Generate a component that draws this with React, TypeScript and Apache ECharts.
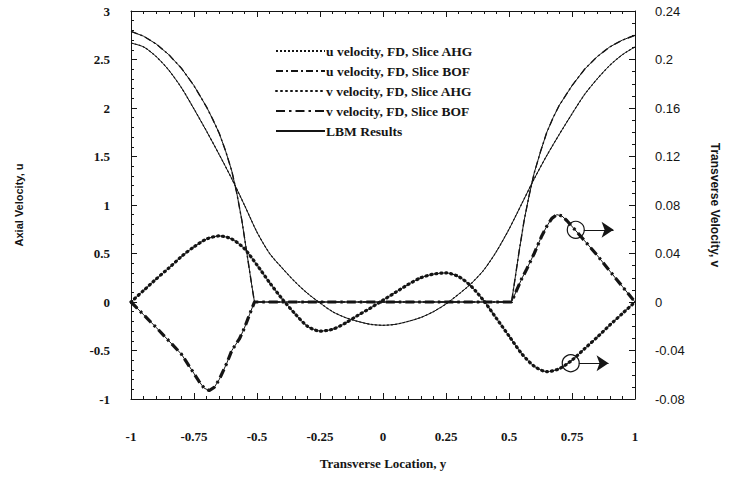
import React, { useEffect, useRef } from "react";
import * as echarts from "echarts";

// Transverse locations (shared grid for AHG slices)
const xGrid = [-1, -0.95, -0.9, -0.85, -0.8, -0.75, -0.7, -0.65, -0.6, -0.55, -0.5, -0.45, -0.4, -0.35, -0.3, -0.25, -0.2, -0.15, -0.1, -0.05, 0, 0.05, 0.1, 0.15, 0.2, 0.25, 0.3, 0.35, 0.4, 0.45, 0.5, 0.55, 0.6, 0.65, 0.7, 0.75, 0.8, 0.85, 0.9, 0.95, 1];

// Axial velocity u, slice AHG
const uAHG = [2.67, 2.63, 2.53, 2.39, 2.21, 1.99, 1.76, 1.52, 1.27, 1.0, 0.72, 0.5, 0.35, 0.21, 0.09, -0.01, -0.1, -0.16, -0.2, -0.23, -0.24, -0.23, -0.2, -0.16, -0.1, -0.02, 0.08, 0.19, 0.33, 0.52, 0.75, 1.01, 1.27, 1.51, 1.73, 1.94, 2.14, 2.3, 2.44, 2.55, 2.63];

// Transverse velocity v, slice AHG
const vAHG = [0, 0.0095, 0.019, 0.028, 0.0375, 0.0455, 0.052, 0.0545, 0.052, 0.044, 0.0305, 0.016, 0.0025, -0.0095, -0.02, -0.024, -0.0225, -0.0175, -0.011, -0.005, 0.0015, 0.008, 0.0145, 0.02, 0.023, 0.024, 0.021, 0.013, 0.001, -0.0135, -0.028, -0.0425, -0.053, -0.0575, -0.055, -0.048, -0.0385, -0.029, -0.019, -0.0095, 0];

// Axial velocity u, slice BOF
const xBOFu = [-1, -0.95, -0.9, -0.85, -0.8, -0.75, -0.7, -0.675, -0.65, -0.625, -0.6, -0.58, -0.56, -0.54, -0.52, -0.51, 0.51, 0.52, 0.54, 0.56, 0.58, 0.6, 0.625, 0.65, 0.675, 0.7, 0.75, 0.8, 0.85, 0.9, 0.95, 1];
const uBOF = [2.79, 2.74, 2.66, 2.55, 2.41, 2.23, 2.01, 1.88, 1.74, 1.56, 1.35, 1.12, 0.84, 0.5, 0.16, 0, 0, 0.17, 0.52, 0.84, 1.1, 1.33, 1.55, 1.75, 1.9, 2.03, 2.23, 2.4, 2.53, 2.63, 2.7, 2.75];

// Transverse velocity v, slice BOF
const xBOFv = [-1, -0.95, -0.9, -0.85, -0.8, -0.75, -0.73, -0.71, -0.69, -0.67, -0.65, -0.62, -0.6, -0.57, -0.55, -0.53, -0.51, 0.51, 0.53, 0.55, 0.57, 0.6, 0.63, 0.65, 0.67, 0.69, 0.71, 0.73, 0.76, 0.8, 0.85, 0.9, 0.95, 1];
const vBOF = [0, -0.0105, -0.021, -0.032, -0.043, -0.059, -0.0655, -0.071, -0.073, -0.0705, -0.064, -0.0505, -0.04, -0.0305, -0.0215, -0.0105, 0, 0, 0.0095, 0.019, 0.027, 0.04, 0.0545, 0.0625, 0.069, 0.072, 0.071, 0.067, 0.06, 0.0505, 0.0385, 0.0255, 0.0128, 0];

// Annotation markers (circle + arrow toward right axis)
const upperMark = { x: 0.765, v: 0.0595, arrowFrom: 0.797, arrowTo: 0.915 };
const lowerMark = { x: 0.745, v: -0.0505, arrowFrom: 0.777, arrowTo: 0.895 };

const names = [
  "u velocity, FD, Slice AHG",
  "u velocity, FD, Slice BOF",
  "v velocity, FD, Slice AHG",
  "v velocity, FD, Slice BOF",
  "LBM Results",
];

const pair = (xs: number[], ys: number[]) => xs.map((x, i) => [x, ys[i]]);

const INK = "#151515";
const SERIF = "'Liberation Serif', 'Times New Roman', serif";
const SANS = "'Liberation Sans', Arial, sans-serif";

function marks(m: { x: number; v: number; arrowFrom: number; arrowTo: number }) {
  return {
    markPoint: {
      silent: true,
      symbol: "circle",
      symbolSize: 17,
      itemStyle: { color: "rgba(0,0,0,0)", borderColor: INK, borderWidth: 1.2 },
      label: { show: false },
      data: [{ coord: [m.x, m.v] }],
    },
    markLine: {
      silent: true,
      symbol: ["none", "arrow"],
      symbolSize: 12,
      itemStyle: { color: INK },
      lineStyle: { color: INK, width: 1, type: "solid" },
      label: { show: false },
      emphasis: { disabled: true },
      data: [[{ coord: [m.arrowFrom, m.v] }, { coord: [m.arrowTo, m.v] }]],
    },
  };
}

export default function App() {
  const ref = useRef<HTMLDivElement>(null);
  useEffect(() => {
    if (!ref.current) return;
    const chart = echarts.init(ref.current, undefined, { renderer: "svg" });
    const commonLine = { type: "line", symbol: "none", smooth: 0.25, silent: true, z: 2, itemStyle: { color: INK } };
    const tickStyle = { lineStyle: { color: INK, width: 1 } };
    const option: any = {
      animation: false,
      backgroundColor: "#ffffff",
      grid: { left: 131, right: 89, top: 11, bottom: 80 },
      legend: {
        orient: "vertical",
        left: 270,
        top: 39,
        itemWidth: 49,
        itemHeight: 12,
        itemGap: 6,
        data: names,
        selectedMode: false,
        itemStyle: { opacity: 0, borderWidth: 0 },
        textStyle: { fontFamily: SERIF, fontWeight: "bold", fontSize: 13.5, color: INK, padding: [0, 0, 0, -4] },
      },
      xAxis: [
        {
          type: "value",
          min: -1,
          max: 1,
          interval: 0.25,
          position: "bottom",
          name: "Transverse Location, y",
          nameLocation: "middle",
          nameGap: 58,
          nameTextStyle: { fontFamily: SERIF, fontWeight: "bold", fontSize: 13, color: INK },
          axisLine: { onZero: false, lineStyle: { color: INK, width: 1 } },
          axisTick: { inside: true, length: 6, ...tickStyle },
          minorTick: { show: true, splitNumber: 5, length: 3, ...tickStyle },
          splitLine: { show: false },
          axisLabel: {
            margin: 31,
            fontFamily: SERIF,
            fontWeight: "bold",
            fontSize: 13,
            color: INK,
            formatter: (v: number) => String(Math.round(v * 100) / 100),
          },
        },
        {
          type: "value",
          min: -1,
          max: 1,
          interval: 0.25,
          position: "top",
          axisLine: { onZero: false, lineStyle: { color: INK, width: 1 } },
          axisTick: { inside: true, length: 6, ...tickStyle },
          minorTick: { show: true, splitNumber: 5, length: 3, ...tickStyle },
          splitLine: { show: false },
          axisLabel: { show: false },
        },
      ],
      yAxis: [
        {
          type: "value",
          min: -1,
          max: 3,
          interval: 0.5,
          position: "left",
          name: "Axial Velocity, u",
          nameLocation: "middle",
          nameGap: 107,
          nameRotate: 90,
          nameTextStyle: { fontFamily: SANS, fontWeight: "bold", fontSize: 11, color: INK },
          axisLine: { onZero: false, lineStyle: { color: INK, width: 1 } },
          axisTick: { inside: true, length: 6, ...tickStyle },
          minorTick: { show: true, splitNumber: 5, length: 3, ...tickStyle },
          splitLine: { show: false },
          axisLabel: {
            margin: 21,
            fontFamily: SERIF,
            fontWeight: "bold",
            fontSize: 13,
            color: INK,
            formatter: (v: number) => String(Math.round(v * 10) / 10),
          },
        },
        {
          type: "value",
          min: -0.08,
          max: 0.24,
          interval: 0.04,
          position: "right",
          name: "Transverse Velocity, v",
          nameLocation: "middle",
          nameGap: 74,
          nameRotate: -90,
          nameTextStyle: { fontFamily: SANS, fontWeight: "bold", fontSize: 12, color: INK },
          axisLine: { onZero: false, lineStyle: { color: INK, width: 1 } },
          axisTick: { inside: true, length: 6, ...tickStyle },
          minorTick: { show: true, splitNumber: 4, length: 3, ...tickStyle },
          splitLine: { show: false },
          axisLabel: {
            margin: 20,
            fontFamily: SANS,
            fontSize: 13,
            color: INK,
            formatter: (v: number) => String(Math.round(v * 100) / 100),
          },
        },
      ],
      series: [
        {
          ...commonLine,
          name: names[0],
          yAxisIndex: 0,
          data: pair(xGrid, uAHG),
          lineStyle: { color: INK, width: 1.2, type: [2, 2] },
        },
        {
          ...commonLine,
          name: names[1],
          yAxisIndex: 0,
          smooth: false,
          data: pair(xBOFu, uBOF),
          lineStyle: { color: INK, width: 1.4, type: [7, 3, 2, 3] },
        },
        {
          ...commonLine,
          name: names[2],
          yAxisIndex: 1,
          data: pair(xGrid, vAHG),
          lineStyle: { color: INK, width: 3.2, type: [1, 4], cap: "round" },
          ...marks(lowerMark),
        },
        {
          ...commonLine,
          name: names[3],
          yAxisIndex: 1,
          smooth: false,
          data: pair(xBOFv, vBOF),
          lineStyle: { color: INK, width: 3.2, type: [9, 4, 2.5, 4] },
          ...marks(upperMark),
        },
        { ...commonLine, name: names[4], yAxisIndex: 0, data: pair(xGrid, uAHG), lineStyle: { color: INK, width: 1 }, z: 3 },
        { ...commonLine, name: names[4], yAxisIndex: 0, smooth: false, data: pair(xBOFu, uBOF), lineStyle: { color: INK, width: 1 }, z: 3 },
        { ...commonLine, name: names[4], yAxisIndex: 1, data: pair(xGrid, vAHG), lineStyle: { color: INK, width: 1 }, z: 3 },
        { ...commonLine, name: names[4], yAxisIndex: 1, smooth: false, data: pair(xBOFv, vBOF), lineStyle: { color: INK, width: 1 }, z: 3 },
      ],
    };
    chart.setOption(option);
    return () => chart.dispose();
  }, []);
  return (
    <div
      ref={ref}
      style={{ position: "absolute", left: 0, top: 0, width: 729, height: 479, background: "#fff" }}
    />
  );
}
